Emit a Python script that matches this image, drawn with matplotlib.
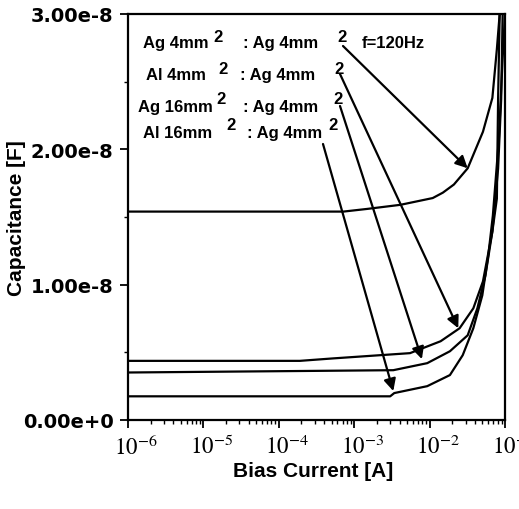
import matplotlib
matplotlib.use("Agg")
import matplotlib.pyplot as plt
from matplotlib.transforms import ScaledTranslation

# bias current [A] and capacitance [F]
ag4_ag4_I = [1e-6, 7.2e-4, 1.5e-3, 4.1e-3, 1.1e-2, 1.5e-2, 2.1e-2, 3.2e-2, 5.1e-2, 6.8e-2, 7.8e-2, 8.5e-2]
ag4_ag4_C = [1.54, 1.54, 1.56, 1.59, 1.64, 1.68, 1.74, 1.86, 2.13, 2.38, 2.74, 3.00]

al4_ag4_I = [1e-6, 1.9e-4, 5.2e-4, 5.5e-3, 1.4e-2, 2.5e-2, 3.8e-2, 5.1e-2, 6.8e-2, 7.8e-2, 8.1e-2, 8.5e-2]
al4_ag4_C = [0.437, 0.437, 0.455, 0.494, 0.582, 0.678, 0.825, 1.024, 1.393, 1.636, 2.37, 3.00]

ag16_ag4_I = [1e-6, 3.3e-3, 9.3e-3, 1.86e-2, 3.2e-2, 4.3e-2, 5.5e-2, 6.8e-2, 8.1e-2, 8.9e-2, 9.3e-2]
ag16_ag4_C = [0.351, 0.368, 0.42, 0.508, 0.626, 0.825, 1.068, 1.393, 1.857, 2.37, 3.00]

al16_ag4_I = [1e-6, 3.0e-3, 3.4e-3, 9.3e-3, 1.86e-2, 2.75e-2, 3.8e-2, 5.0e-2, 6.0e-2, 6.9e-2, 8.3e-2, 9.3e-2, 1.0e-1]
al16_ag4_C = [0.175, 0.175, 0.199, 0.25, 0.332, 0.479, 0.678, 0.921, 1.216, 1.51, 2.08, 2.67, 3.00]

series = [
    (ag4_ag4_I, ag4_ag4_C),
    (al4_ag4_I, al4_ag4_C),
    (ag16_ag4_I, ag16_ag4_C),
    (al16_ag4_I, al16_ag4_C),
]

y_ticks = [0, 1e-8, 2e-8, 3e-8]
y_labels = ["0.00e+0", "1.00e-8", "2.00e-8", "3.00e-8"]
x_ticks = [1e-6, 1e-5, 1e-4, 1e-3, 1e-2, 1e-1]
x_labels = [r"$10^{-6}$", r"$10^{-5}$", r"$10^{-4}$", r"$10^{-3}$", r"$10^{-2}$", r"$10^{-1}$"]

# arrow tips (current, capacitance) for each label row
arrow_tips = [(3.2e-2, 1.86e-8), (2.4e-2, 0.678e-8), (7.9e-3, 0.45e-8), (3.3e-3, 0.214e-8)]

plt.rcParams["mathtext.fontset"] = "stix"

W, H = 519, 510
fig = plt.figure(figsize=(5.19, 5.10), dpi=100)
ax = fig.add_axes([128 / W, 1 - 421 / H, 377 / W, 406 / H])

for cur, cap in series:
    ax.plot(cur, [c * 1e-8 for c in cap], color="black", lw=1.6)

ax.set_xscale("log")
ax.set_xlim(1e-6, 1e-1)
ax.set_ylim(0, 3e-8)
ax.set_xticks(x_ticks)
ax.set_xticklabels(x_labels, fontsize=16.5)
ax.set_yticks(y_ticks)
ax.set_yticklabels(y_labels, fontsize=14, fontweight="bold", family="DejaVu Sans")
ax.set_yticks([0.5e-8, 1.5e-8, 2.5e-8], minor=True)

for s in ax.spines.values():
    s.set_linewidth(1.6)
ax.tick_params(which="major", direction="out", length=5.5, width=1.3)
ax.tick_params(which="minor", direction="out", length=3, width=1.0)
ax.tick_params(axis="y", which="major", pad=5)
ax.tick_params(axis="x", which="major", pad=5)

# the scanned 10^n labels sit a little right of their ticks
shift = ScaledTranslation(8 / 100, 0, fig.dpi_scale_trans)
for lab in ax.get_xticklabels():
    lab.set_transform(lab.get_transform() + shift)

ax.set_xlabel("Bias Current [A]", fontsize=15, fontweight="bold", family="Liberation Sans")
ax.set_ylabel("Capacitance [F]", fontsize=15, fontweight="bold", family="Liberation Sans")
ax.xaxis.set_label_coords(0.49, -0.1)
ax.yaxis.set_label_coords(-0.27, 0.5)

# label rows: (text, x px, baseline y px) pieces
rows = [
    [("Ag 4mm", 143, 48), ("2", 213, 42), (": Ag 4mm", 243, 48), ("2", 337, 42), ("f=120Hz", 362, 48)],
    [("Al 4mm", 146, 80), ("2", 218, 74), (": Ag 4mm", 240, 80), ("2", 334, 74)],
    [("Ag 16mm", 138, 112), ("2", 216, 104), (": Ag 4mm", 243, 112), ("2", 333, 104)],
    [("Al 16mm", 143, 138), ("2", 226, 130), (": Ag 4mm", 247, 138), ("2", 328, 130)],
]
for row in rows:
    for txt, px, py in row:
        ax.annotate(txt, xy=(px, H - py), xycoords="figure pixels",
                    ha="left", va="baseline", fontsize=12, fontweight="bold",
                    family="Liberation Sans")

starts = [(343, 47), (340, 75), (340, 107), (323, 145)]
for (px, py), tip in zip(starts, arrow_tips):
    ax.annotate("", xy=tip, xycoords="data",
                xytext=(px, H - py), textcoords="figure pixels",
                arrowprops=dict(arrowstyle="-|>", color="black", lw=1.6,
                                mutation_scale=18, shrinkA=0, shrinkB=0))

fig.savefig("out.png", dpi=100)
